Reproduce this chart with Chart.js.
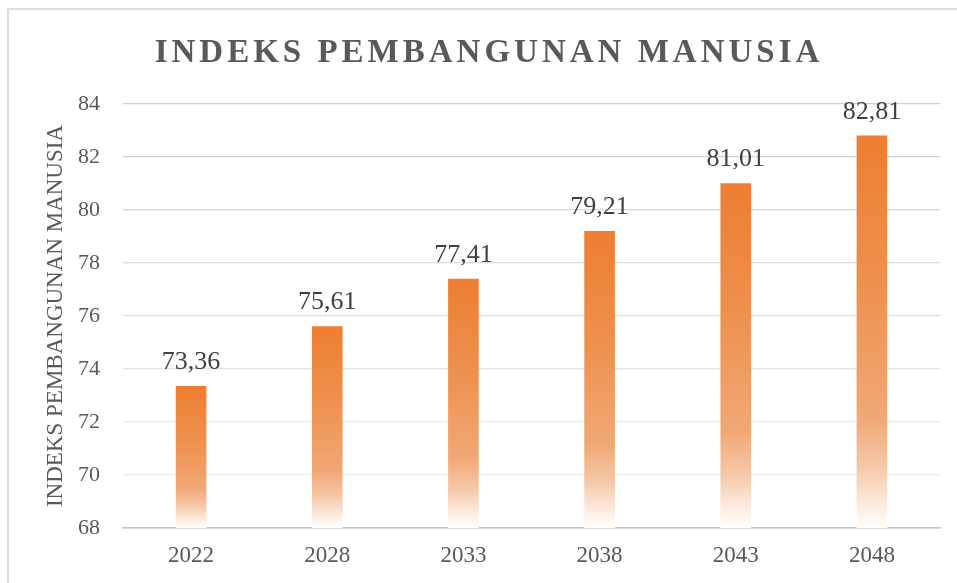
<!DOCTYPE html>
<html>
<head>
<meta charset="utf-8">
<script src="https://cdn.jsdelivr.net/npm/chart.js@4"></script>
<style>
  html, body { margin: 0; padding: 0; background: #ffffff; overflow: hidden; }
  #wrap { position: relative; width: 957px; height: 583px; }
  #frame { position: absolute; left: 7px; top: 8px; width: 980px; height: 620px; border: 2px solid #dedede; pointer-events: none; }
  canvas { position: absolute; left: 0; top: 0; }
</style>
</head>
<body>
<div id="wrap">
  <canvas id="c" width="957" height="583"></canvas>
  <div id="frame"></div>
</div>
<script>
const chartTitle = 'INDEKS PEMBANGUNAN MANUSIA';
const axisTitle = 'INDEKS PEMBANGUNAN MANUSIA';
const categories = ['2022', '2028', '2033', '2038', '2043', '2048'];
const values = [73.36, 75.61, 77.41, 79.21, 81.01, 82.81];
const yMin = 68;
const yMax = 84;
const yStep = 2;

const SERIF = '"Liberation Serif", "Times New Roman", serif';

function barGradient(ctx) {
  const chart = ctx.chart;
  const area = chart.chartArea;
  if (!area || ctx.type !== 'data') return '#ED7D31';
  const y = chart.scales.y;
  const top = y.getPixelForValue(ctx.raw);
  const bot = y.getPixelForValue(yMin);
  const g = chart.ctx.createLinearGradient(0, top, 0, bot);
  g.addColorStop(0, '#ED7D31');
  g.addColorStop(0.4, '#EE9250');
  g.addColorStop(0.72, '#F0A876');
  g.addColorStop(0.84, '#F5C7A6');
  g.addColorStop(0.94, '#FCEBDF');
  g.addColorStop(1, '#FFFFFF');
  return g;
}

const labelPlugin = {
  id: 'valueLabels',
  afterDatasetsDraw(chart) {
    const c = chart.ctx;
    const meta = chart.getDatasetMeta(0);
    c.save();
    c.font = '26px ' + SERIF;
    c.fillStyle = '#404040';
    c.textAlign = 'center';
    c.textBaseline = 'alphabetic';
    meta.data.forEach((el, i) => {
      const txt = values[i].toFixed(2).replace('.', ',');
      c.fillText(txt, el.x, el.y - 17);
    });
    c.restore();
  }
};

const titlePlugin = {
  id: 'spacedTitle',
  afterDraw(chart) {
    const c = chart.ctx;
    c.save();
    c.font = 'bold 33px ' + SERIF;
    c.fillStyle = '#595959';
    c.textAlign = 'center';
    c.textBaseline = 'alphabetic';
    try { c.letterSpacing = '4px'; } catch (e) {}
    c.fillText(chartTitle, 489, 62);
    c.restore();
  }
};

function gridColor(ctx) {
  const v = ctx.tick ? ctx.tick.value : 0;
  if (v === yMin) return '#c6c6c6';
  const t = (v - yMin) / (yMax - yMin); // 0 bottom .. 1 top
  const lo = 240, hi = 206;
  const c = Math.round(lo + (hi - lo) * t);
  return `rgb(${c},${c},${c})`;
}

new Chart(document.getElementById('c'), {
  type: 'bar',
  data: {
    labels: categories,
    datasets: [{
      data: values,
      backgroundColor: barGradient,
      borderWidth: 0,
      barPercentage: 0.225,
      categoryPercentage: 1.0
    }]
  },
  options: {
    responsive: false,
    animation: false,
    layout: { padding: { left: 0, right: 17, top: 104, bottom: 0 } },
    plugins: {
      legend: { display: false },
      title: { display: false },
      tooltip: { enabled: false }
    },
    scales: {
      x: {
        grid: { display: false, drawTicks: false },
        border: { display: true, color: '#c6c6c6', width: 1.5 },
        ticks: { color: '#595959', font: { family: SERIF, size: 23 }, padding: 14, maxRotation: 0 },
        afterFit(scale) { scale.height = 55; }
      },
      y: {
        min: yMin,
        max: yMax,
        grid: { color: gridColor, lineWidth: 1.3, drawTicks: false },
        border: { display: false },
        ticks: { stepSize: yStep, color: '#595959', font: { family: SERIF, size: 22 }, padding: 23 },
        title: {
          display: true,
          text: axisTitle,
          color: '#595959',
          font: { family: SERIF, size: 23, weight: 'normal' },
          padding: { top: 42, bottom: 0 }
        },
        afterFit(scale) { scale.width = 123; }
      }
    }
  },
  plugins: [labelPlugin, titlePlugin]
});
</script>
</body>
</html>
